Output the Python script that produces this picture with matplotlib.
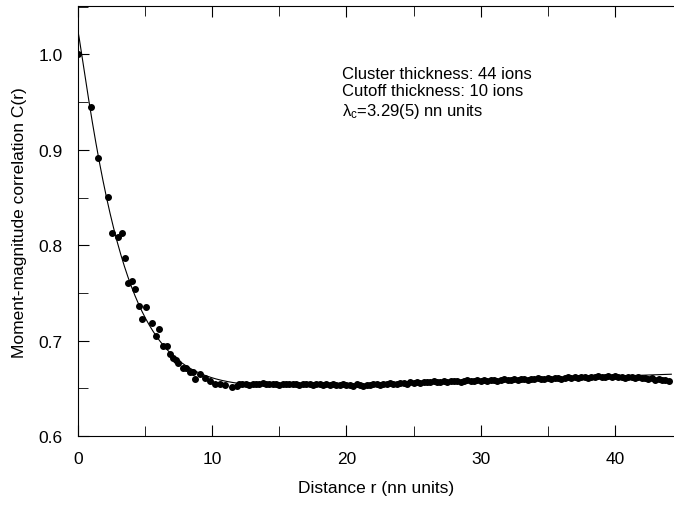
import numpy as np
import matplotlib
matplotlib.use("Agg")
import matplotlib.pyplot as plt
from matplotlib.ticker import MultipleLocator

plt.rcParams['font.family'] = ['Liberation Sans', 'DejaVu Sans']
plt.rcParams['mathtext.fontset'] = 'custom'
plt.rcParams['mathtext.rm'] = 'Liberation Sans'
plt.rcParams['mathtext.it'] = 'Liberation Sans'

# Dados: queda inicial (r < 12)
r_queda = [0.0, 0.97, 1.51, 2.26, 2.53, 3.0, 3.25, 3.5, 3.75, 4.0, 4.24, 4.54,
           4.79, 5.04, 5.53, 5.79, 6.03, 6.35, 6.6, 6.85, 7.1, 7.3, 7.47, 7.84,
           8.04, 8.34, 8.59, 8.71, 9.08, 9.46, 9.83, 10.2, 10.57, 10.95, 11.44, 11.82]
c_queda = [1.000, 0.945, 0.891, 0.851, 0.813, 0.809, 0.813, 0.787, 0.760, 0.763, 0.754, 0.736,
           0.723, 0.735, 0.718, 0.705, 0.712, 0.694, 0.694, 0.686, 0.682, 0.680, 0.677, 0.671,
           0.671, 0.667, 0.667, 0.660, 0.665, 0.661, 0.658, 0.654, 0.655, 0.653, 0.651, 0.652]

# Dados: patamar (r = 12 ... 44, passo 0.25)
r_patamar = np.arange(12.0, 44.01, 0.25)
c_patamar = [
    0.6540, 0.6550, 0.6545, 0.6535, 0.6550, 0.6545, 0.6540, 0.6555,  # 12-13.75
    0.6545, 0.6540, 0.6550, 0.6545, 0.6535, 0.6550, 0.6545, 0.6540,  # 14-15.75
    0.6550, 0.6545, 0.6535, 0.6545, 0.6540, 0.6550, 0.6535, 0.6540,  # 16-17.75
    0.6545, 0.6535, 0.6540, 0.6530, 0.6545, 0.6535, 0.6530, 0.6540,  # 18-19.75
    0.6530, 0.6535, 0.6525, 0.6540, 0.6530, 0.6525, 0.6535, 0.6530,  # 20-21.75
    0.6540, 0.6545, 0.6535, 0.6550, 0.6545, 0.6555, 0.6550, 0.6545,  # 22-23.75
    0.6555, 0.6560, 0.6550, 0.6565, 0.6560, 0.6570, 0.6560, 0.6565,  # 24-25.75
    0.6570, 0.6565, 0.6575, 0.6565, 0.6570, 0.6580, 0.6570, 0.6575,  # 26-27.75
    0.6575, 0.6580, 0.6570, 0.6580, 0.6585, 0.6575, 0.6580, 0.6590,  # 28-29.75
    0.6580, 0.6585, 0.6580, 0.6590, 0.6585, 0.6580, 0.6590, 0.6595,  # 30-31.75
    0.6590, 0.6585, 0.6595, 0.6590, 0.6600, 0.6595, 0.6590, 0.6600,  # 32-33.75
    0.6595, 0.6605, 0.6600, 0.6595, 0.6605, 0.6600, 0.6610, 0.6605,  # 34-35.75
    0.6600, 0.6610, 0.6615, 0.6605, 0.6615, 0.6610, 0.6620, 0.6615,  # 36-37.75
    0.6610, 0.6620, 0.6615, 0.6625, 0.6620, 0.6615, 0.6625, 0.6620,  # 38-39.75
    0.6625, 0.6615, 0.6620, 0.6610, 0.6620, 0.6615, 0.6605, 0.6615,  # 40-41.75
    0.6605, 0.6610, 0.6595, 0.6605, 0.6590, 0.6595, 0.6585, 0.6590,  # 42-43.75
    0.6580,                                                          # 44
]

# Ajuste: C(r) = A + B r + D exp(-(r/lam)^p)
A_fit, B_fit, D_fit, lam_fit, p_fit = 0.6432, 0.000488, 0.381, 3.3, 1.1
r_fit = np.linspace(0, 44.2, 500)
c_fit = A_fit + B_fit * r_fit + D_fit * np.exp(-(r_fit / lam_fit) ** p_fit)

fig = plt.figure(figsize=(6.74, 5.06), dpi=100)
ax = fig.add_axes([78 / 674, 69 / 506, 1 - 78 / 674, 429.7 / 506])

ax.plot(r_fit, c_fit, color="black", lw=0.8, zorder=2)
ax.plot(r_queda, c_queda, "o", color="black", ms=4, zorder=3)
ax.plot(r_patamar, c_patamar, "o", color="black", ms=4, zorder=3)

ax.set_xlim(0, 44.4)
ax.set_ylim(0.6, 1.0505)
ax.xaxis.set_major_locator(MultipleLocator(10))
ax.xaxis.set_minor_locator(MultipleLocator(5))
ax.yaxis.set_major_locator(MultipleLocator(0.1))
ax.yaxis.set_minor_locator(MultipleLocator(0.05))
ax.yaxis.set_major_formatter(matplotlib.ticker.FormatStrFormatter("%.1f"))
ax.tick_params(which="both", direction="in", top=True, right=False, labelsize=12.5, pad=11)
ax.tick_params(which="major", length=8)
ax.tick_params(which="minor", length=7)
ax.spines["right"].set_visible(False)

ax.set_xlabel("Distance r (nn units)", fontsize=12.5, labelpad=10)
ax.set_ylabel("Moment-magnitude correlation C(r)", fontsize=12.5, labelpad=8)

ax.text(0.443, 0.862, "Cluster thickness: 44 ions\nCutoff thickness: 10 ions\n$\\lambda_c$=3.29(5) nn units",
        transform=ax.transAxes, fontsize=12, va="top", ha="left", linespacing=1.2)

fig.savefig("out.png", dpi=100)
